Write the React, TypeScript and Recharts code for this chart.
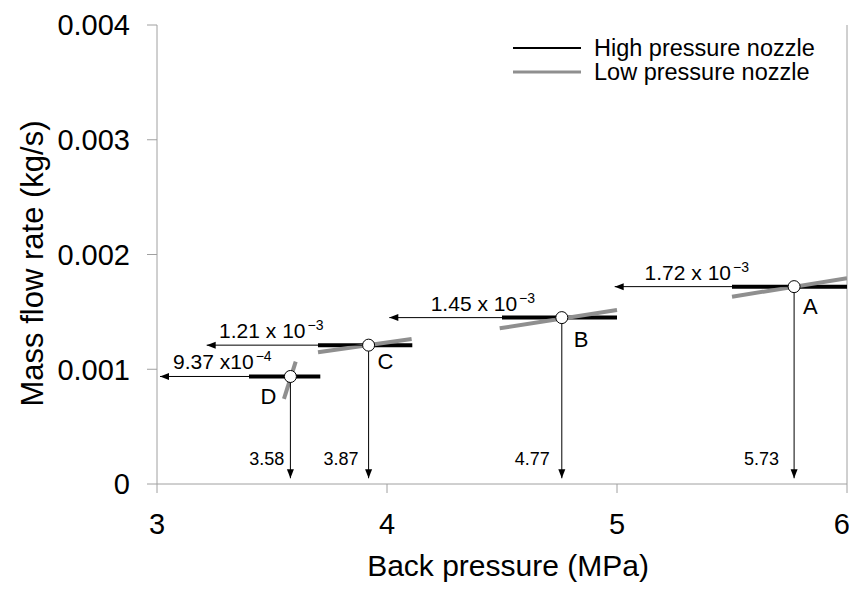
import React from 'react';
import { ComposedChart, Line, Scatter, XAxis, YAxis, ReferenceLine, Legend } from 'recharts';

const FONT = '"Liberation Sans", Arial, Helvetica, sans-serif';

// ---- data ----
const pointNames = ['A', 'B', 'C', 'D'];
const pointPressure = [5.77, 4.76, 3.92, 3.58];
const pointFlow = [0.00172, 0.00145, 0.00121, 0.000937];

const flowMantissa = ['1.72 x 10', '1.45 x 10', '1.21 x 10', '9.37 x10'];
const flowExponent = ['\u22123', '\u22123', '\u22123', '\u22124'];
const pressureLabels = ['5.73', '4.77', '3.87', '3.58'];

// High pressure nozzle (horizontal segments through each point)
const highX1 = [5.5, 4.5, 3.7, 3.4];
const highX2 = [6.0, 5.0, 4.11, 3.71];

// Low pressure nozzle (sloped segments)
const lowX1 = [5.5, 4.49, 3.7, 3.552];
const lowY1 = [0.001632, 0.001357, 0.001148, 0.000741];
const lowX2 = [6.0, 5.0, 4.107, 3.603];
const lowY2 = [0.001793, 0.001516, 0.001264, 0.001066];

// Arrow ends
const arrowLeftEnd = [4.99, 4.01, 3.216, 3.013];
const arrowDownEnd = 0.00005;
const flowLabelStart = [5.12, 4.19, 3.27, 3.07];

const xTicks = [3, 4, 5, 6];
const yTicks = [0, 0.001, 0.002, 0.003, 0.004];

const legendItems = [
  { name: 'High pressure nozzle', color: '#000000', width: 2.2 },
  { name: 'Low pressure nozzle', color: '#8f8f8f', width: 3 },
];

// ---- layout / style constants ----
const AXIS = '#a0a0a0';
const GRAY = '#8f8f8f';
const letterLayout = [
  { dx: 9, dy: 27, anchor: 'start' },
  { dx: 12, dy: 29, anchor: 'start' },
  { dx: 9, dy: 24, anchor: 'start' },
  { dx: -14, dy: 28, anchor: 'end' },
];
const pressureGap = [15, 12, 10, 6];

const pointsData = pointNames.map((n, i) => ({ x: pointPressure[i], y: pointFlow[i], name: n, i }));
const flowLabelData = flowMantissa.map((m, i) => ({ x: flowLabelStart[i], y: pointFlow[i], m, e: flowExponent[i] }));

const PointShape = (props: any) => {
  const { cx, cy, payload } = props;
  if (cx == null || cy == null) return <g />;
  const l = letterLayout[payload.i];
  return (
    <g>
      <circle cx={cx} cy={cy} r={6} fill="#fff" stroke="#000" strokeWidth={1} />
      <text x={cx + l.dx} y={cy + l.dy} textAnchor={l.anchor} fontSize={22} fontFamily={FONT} fill="#000">
        {payload.name}
      </text>
    </g>
  );
};

const FlowLabelShape = (props: any) => {
  const { cx, cy, payload } = props;
  if (cx == null || cy == null) return <g />;
  return (
    <text x={cx} y={cy - 7} fontSize={21} fontFamily={FONT} fill="#000">
      {payload.m}
      <tspan dx={2} dy={-8} fontSize={14}>{payload.e}</tspan>
    </text>
  );
};

const makeLeftArrowDot = () => (props: any) => {
  const { cx, cy, index, key } = props;
  if (index !== 1 || cx == null) return <g key={key} />;
  return <path key={key} d={`M${cx},${cy} L${cx + 9},${cy - 3.5} L${cx + 9},${cy + 3.5} Z`} fill="#000" stroke="none" />;
};

const makeDownArrowDot = (i: number) => (props: any) => {
  const { cx, cy, index, key } = props;
  if (index !== 1 || cx == null) return <g key={key} />;
  return (
    <g key={key}>
      <path d={`M${cx},${cy} L${cx - 3.5},${cy - 9} L${cx + 3.5},${cy - 9} Z`} fill="#000" stroke="none" />
      <text x={cx - pressureGap[i]} y={cy - 13} textAnchor="end" fontSize={18} fontFamily={FONT} fill="#000">
        {pressureLabels[i]}
      </text>
    </g>
  );
};

const renderLegend = () => (
  <svg width={340} height={64} style={{ display: 'block' }}>
    {legendItems.map((it, i) => (
      <g key={it.name}>
        <line x1={8} x2={76} y1={23 + i * 24} y2={23 + i * 24} stroke={it.color} strokeWidth={it.width} />
        <text x={89} y={23 + i * 24} dominantBaseline="central" fontSize={23.5} fontFamily={FONT} fill="#000">
          {it.name}
        </text>
      </g>
    ))}
  </svg>
);

const renderXTitle = (props: any) => {
  const vb = props.viewBox || { x: 149, y: 476, width: 690, height: 98 };
  return (
    <text x={vb.x + vb.width / 2 + 6} y={vb.y + 92} textAnchor="middle" fontSize={30} fontFamily={FONT} fill="#000">
      Back pressure (MPa)
    </text>
  );
};

const renderYTitle = (props: any) => {
  const vb = props.viewBox || { x: 0, y: 17, width: 149, height: 459 };
  const x = vb.x + 35;
  const y = vb.y + vb.height / 2 + 9;
  return (
    <text x={x} y={y} transform={`rotate(-90, ${x}, ${y})`} textAnchor="middle" fontSize={31} fontFamily={FONT} fill="#000">
      Mass flow rate (kg/s)
    </text>
  );
};

export default function App() {
  return (
    <div style={{ fontFamily: FONT, width: 841, height: 574 }}>
      <ComposedChart
        width={841}
        height={574}
        margin={{ top: 17, right: 2, bottom: 0, left: 0 }}
        style={{ overflow: 'visible' }}
      >
        <XAxis
          type="number"
          dataKey="x"
          domain={[3, 6]}
          ticks={xTicks}
          allowDataOverflow
          height={98}
          tickSize={9}
          tickMargin={20}
          stroke={AXIS}
          tick={{ fontSize: 29, fill: '#000', fontFamily: FONT }}
          tickFormatter={(v: number) => String(v)}
          label={renderXTitle}
        />
        <YAxis
          type="number"
          domain={[0, 0.004]}
          ticks={yTicks}
          allowDataOverflow
          width={149}
          tickSize={10}
          tickMargin={17}
          stroke={AXIS}
          tick={{ fontSize: 29, fill: '#000', fontFamily: FONT }}
          tickFormatter={(v: number) => (v === 0 ? '0' : v.toFixed(3))}
          label={renderYTitle}
        />
        <ReferenceLine x={6} stroke={AXIS} strokeWidth={1} />
        <Legend
          layout="horizontal"
          verticalAlign="middle"
          align="center"
          content={renderLegend}
          wrapperStyle={{ left: 497, top: 17, width: 340, height: 64 }}
        />
        {pointNames.map((n, i) => (
          <Line
            key={'high' + n}
            data={[
              { x: highX1[i], y: pointFlow[i] },
              { x: highX2[i], y: pointFlow[i] },
            ]}
            dataKey="y"
            stroke="#000"
            strokeWidth={4}
            dot={false}
            activeDot={false}
            isAnimationActive={false}
            legendType="none"
          />
        ))}
        {pointNames.map((n, i) => (
          <Line
            key={'low' + n}
            data={[
              { x: lowX1[i], y: lowY1[i] },
              { x: lowX2[i], y: lowY2[i] },
            ]}
            dataKey="y"
            stroke={GRAY}
            strokeWidth={4}
            dot={false}
            activeDot={false}
            isAnimationActive={false}
            legendType="none"
          />
        ))}
        {pointNames.map((n, i) => (
          <Line
            key={'harrow' + n}
            data={[
              { x: pointPressure[i], y: pointFlow[i] },
              { x: arrowLeftEnd[i], y: pointFlow[i] },
            ]}
            dataKey="y"
            stroke="#000"
            strokeWidth={1}
            dot={makeLeftArrowDot()}
            activeDot={false}
            isAnimationActive={false}
            legendType="none"
          />
        ))}
        {pointNames.map((n, i) => (
          <Line
            key={'varrow' + n}
            data={[
              { x: pointPressure[i], y: pointFlow[i] },
              { x: pointPressure[i], y: arrowDownEnd },
            ]}
            dataKey="y"
            stroke="#000"
            strokeWidth={1}
            dot={makeDownArrowDot(i)}
            activeDot={false}
            isAnimationActive={false}
            legendType="none"
          />
        ))}
        <Scatter data={flowLabelData} dataKey="y" shape={FlowLabelShape} isAnimationActive={false} legendType="none" />
        <Scatter data={pointsData} dataKey="y" shape={PointShape} isAnimationActive={false} legendType="none" />
      </ComposedChart>
    </div>
  );
}
